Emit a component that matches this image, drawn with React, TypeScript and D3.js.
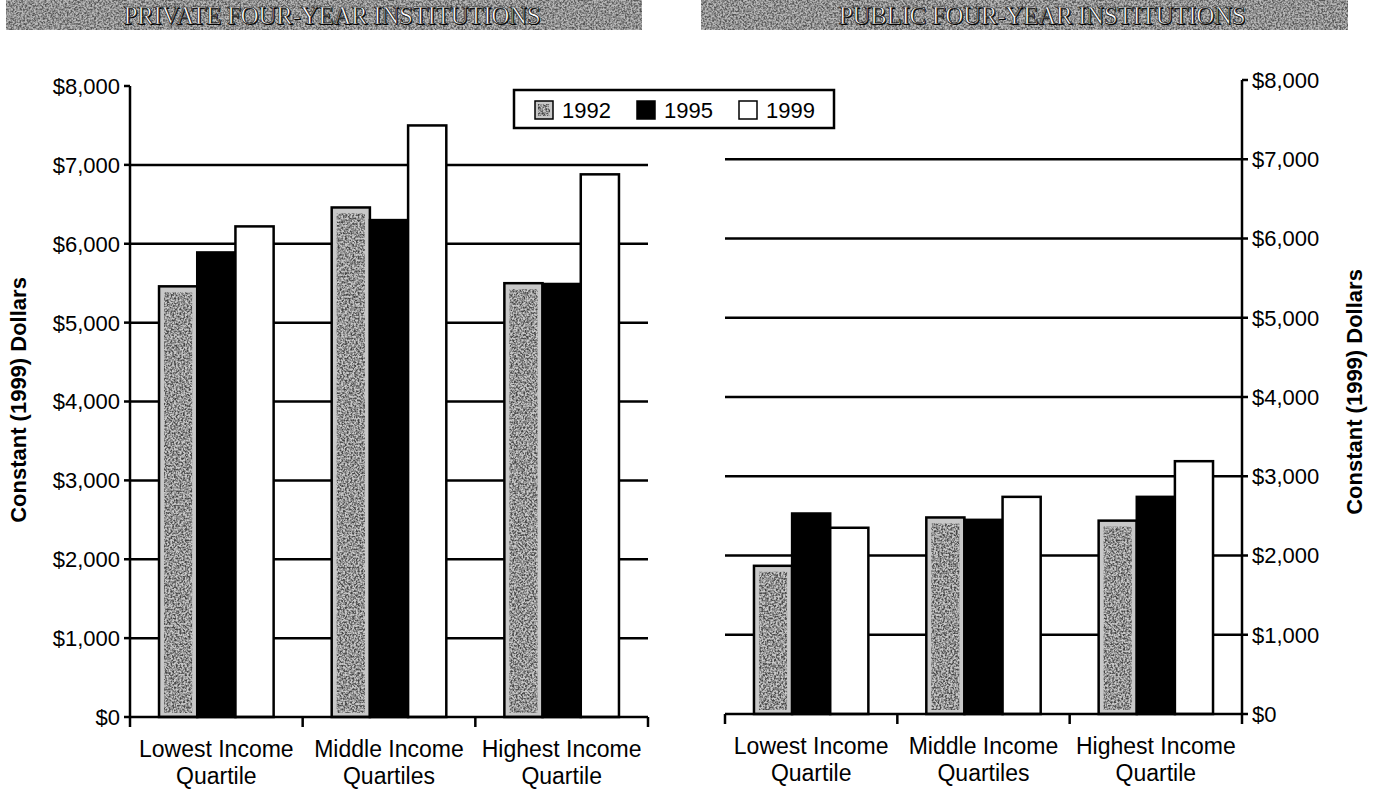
import React from "react"
import * as d3 from "d3"

const categories = [
  ["Lowest Income", "Quartile"],
  ["Middle Income", "Quartiles"],
  ["Highest Income", "Quartile"],
]
const years = ["1992", "1995", "1999"]

const private1992 = [5460, 6460, 5500]
const private1995 = [5890, 6300, 5490]
const private1999 = [6220, 7500, 6880]

const public1992 = [1870, 2480, 2440]
const public1995 = [2530, 2450, 2740]
const public1999 = [2350, 2740, 3190]

const yTicks = [0, 1000, 2000, 3000, 4000, 5000, 6000, 7000, 8000]

const FONT = "Arial, 'Liberation Sans', Helvetica, sans-serif"

type PanelProps = {
  x0: number
  x1: number
  yBase: number
  yTop: number
  axisSide: "left" | "right"
  series: number[][]
  titleX: number
  titleY: number
}

const fills = ["#c8c8c8", "#000", "#fff"]

function Panel(props: PanelProps) {
  const { x0, x1, yBase, yTop, axisSide, series } = props
  const xCat = d3
    .scaleBand<number>()
    .domain(categories.map((_, i) => i))
    .range([x0, x1])
  const xYear = d3
    .scaleBand<string>()
    .domain(years)
    .range([0, xCat.bandwidth()])
    .paddingOuter(0.76)
  const y = d3.scaleLinear().domain([0, 8000]).range([yBase, yTop])
  const axisX = axisSide === "left" ? x0 : x1
  const fmt = (v: number) => "$" + d3.format(",")(v)

  return (
    <g>
      {/* gridlines */}
      {yTicks
        .filter(t => t > 0 && t < 8000)
        .map(t => (
          <line
            key={"g" + t}
            x1={x0}
            x2={x1}
            y1={y(t)}
            y2={y(t)}
            stroke="#000"
            strokeWidth={2.5}
          />
        ))}
      {/* bars */}
      {categories.map((_, ci) =>
        years.map((yr, yi) => {
          const bx = (xCat(ci) as number) + (xYear(yr) as number)
          const v = series[yi][ci]
          return (
            <g key={ci + "-" + yr}>
              <rect
                x={bx}
                y={y(v)}
                width={xYear.bandwidth()}
                height={yBase - y(v)}
                fill={fills[yi]}
              />
              {yi === 0 && (
                <rect
                  x={bx + 5}
                  y={y(v) + 6}
                  width={xYear.bandwidth() - 10}
                  height={yBase - y(v) - 10}
                  fill="#444"
                  filter="url(#noise)"
                />
              )}
              <rect
                x={bx}
                y={y(v)}
                width={xYear.bandwidth()}
                height={yBase - y(v)}
                fill="none"
                stroke="#000"
                strokeWidth={2.5}
              />
            </g>
          )
        })
      )}
      {/* y axis */}
      <line x1={axisX} x2={axisX} y1={yTop} y2={yBase} stroke="#000" strokeWidth={2.5} />
      {yTicks.map(t => (
        <g key={"t" + t}>
          <line
            x1={axisX}
            x2={axisSide === "left" ? axisX - 6 : axisX + 6}
            y1={y(t)}
            y2={y(t)}
            stroke="#000"
            strokeWidth={2.5}
          />
          <text
            x={axisSide === "left" ? axisX - 10 : axisX + 10}
            y={y(t)}
            dy="0.36em"
            textAnchor={axisSide === "left" ? "end" : "start"}
            fontSize={22}
            fontFamily={FONT}
          >
            {fmt(t)}
          </text>
        </g>
      ))}
      {/* x axis */}
      <line x1={x0} x2={x1} y1={yBase} y2={yBase} stroke="#000" strokeWidth={2.5} />
      {[...categories.map((_, i) => xCat(i) as number), x1].map((tx, i) => (
        <line key={"xt" + i} x1={tx} x2={tx} y1={yBase} y2={yBase + 10} stroke="#000" strokeWidth={2.5} />
      ))}
      {categories.map((lines, ci) => (
        <text
          key={"c" + ci}
          x={(xCat(ci) as number) + xCat.bandwidth() / 2}
          y={yBase + 40}
          textAnchor="middle"
          fontSize={23}
          fontFamily={FONT}
        >
          {lines.map((l, li) => (
            <tspan key={li} x={(xCat(ci) as number) + xCat.bandwidth() / 2} dy={li === 0 ? 0 : 27}>
              {l}
            </tspan>
          ))}
        </text>
      ))}
      <text
        transform={`translate(${props.titleX},${props.titleY}) rotate(-90)`}
        textAnchor="middle"
        fontSize={22}
        fontWeight="bold"
        fontFamily={FONT}
      >
        Constant (1999) Dollars
      </text>
    </g>
  )
}

function Banner(props: { x: number; w: number; label: string; cx: number }) {
  const textProps = {
    textAnchor: "middle" as const,
    fontSize: 25,
    fontFamily: "'Liberation Serif', 'DejaVu Serif', serif",
    letterSpacing: -0.3,
  }
  return (
    <g>
      <rect x={props.x} y={0} width={props.w} height={30} fill="#b8b8b8" />
      <rect x={props.x} y={0} width={props.w} height={30} fill="#555" filter="url(#noise)" />
      <text x={props.cx + 1} y={25} {...textProps} fill="#000">
        {props.label}
      </text>
      <text x={props.cx} y={24} {...textProps} fill="#fff" stroke="#111" strokeWidth={0.7}>
        {props.label}
      </text>
    </g>
  )
}

export default function App() {
  return (
    <svg
      width={1374}
      height={789}
      style={{ position: "absolute", left: 0, top: 0, background: "#fff" }}
    >
      <defs>
        <filter id="noise" x="0" y="0" width="100%" height="100%">
          <feTurbulence type="fractalNoise" baseFrequency="0.55" numOctaves={2} seed={3} result="n" />
          <feColorMatrix
            in="n"
            type="matrix"
            values="0 0 0 0 0  0 0 0 0 0  0 0 0 0 0  0 0 0 -2.6 1.7"
            result="a"
          />
          <feComposite in="SourceGraphic" in2="a" operator="in" />
        </filter>
      </defs>

      <Banner x={6} w={636} label="PRIVATE FOUR-YEAR INSTITUTIONS" cx={332} />
      <Banner x={701} w={647} label="PUBLIC FOUR-YEAR INSTITUTIONS" cx={1042} />

      <Panel
        x0={130}
        x1={648}
        yBase={717}
        yTop={86}
        axisSide="left"
        series={[private1992, private1995, private1999]}
        titleX={26}
        titleY={400}
      />
      <Panel
        x0={725}
        x1={1242}
        yBase={714}
        yTop={80}
        axisSide="right"
        series={[public1992, public1995, public1999]}
        titleX={1362}
        titleY={392}
      />

      {/* legend */}
      <g fontFamily={FONT} fontSize={22}>
        <rect x={514} y={90} width={320} height={38} fill="#fff" stroke="#000" strokeWidth={2.5} />
        {years.map((yr, i) => {
          const lx = 535 + i * 102
          return (
            <g key={yr}>
              <rect x={lx} y={101} width={18} height={18} fill={fills[i]} />
              {i === 0 && <rect x={lx + 3} y={104} width={12} height={12} fill="#444" filter="url(#noise)" />}
              <rect x={lx} y={101} width={18} height={18} fill="none" stroke="#000" strokeWidth={1.5} />
              <text x={lx + 27} y={118}>
                {yr}
              </text>
            </g>
          )
        })}
      </g>
    </svg>
  )
}
